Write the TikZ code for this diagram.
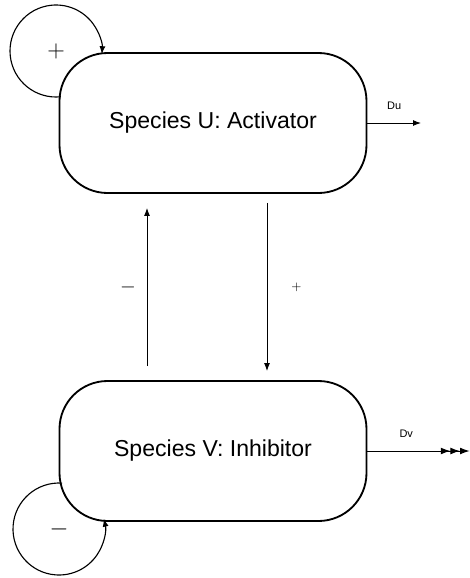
\documentclass[tikz,border=0pt]{standalone}
\usepackage{fontspec}
\setmainfont{Liberation Sans}
\usetikzlibrary{arrows.meta}

\begin{document}
\begin{tikzpicture}[line width=0.7pt,>={Latex[length=0.2cm,width=0.15cm]},
    species/.style={draw,line width=1.3pt,rectangle,rounded corners=1.2cm,minimum width=7.675cm,minimum height=3.5cm,font=\fontsize{16.4}{20}\selectfont},
    sign/.style={font=\fontsize{18.5}{20}\selectfont},
    rate/.style={font=\fontsize{7.8}{9}\selectfont}]
    \useasboundingbox (0,0) rectangle (11.75,-14.45);
    \node at (5.325,-3.075) [species] (act) {Species U: Activator};
    \node at (5.325,-11.275) [species] (inh) {Species V: Inhibitor};
    \node at (1.4,-1.275) [sign] (pself) {$+$};
    \node at (1.475,-13.225) [sign] (mself) {$-$};
    \coordinate (du) at (10.525,-3.075);
    \coordinate (dv) at (11.74,-11.275);
    \draw[->,line width=0.8pt] ([shift={(-84:1.15)}]pself.center) arc[start angle=-84,end angle=-364,radius=1.15];
    \draw[->,line width=0.8pt] ([shift={(86:1.15)}]mself.center) arc[start angle=86,end angle=373,radius=1.15];
    \draw[->,shorten <=0.35cm,shorten >=0.35cm] ([xshift=-1.65cm]inh.north) -- ([xshift=-1.65cm]act.south)
        node[midway,left=0.15cm,font=\fontsize{13.5}{15}\selectfont] {$-$};
    \draw[->,shorten <=0.225cm,shorten >=0.225cm] ([xshift=1.35cm]act.south) -- ([xshift=1.35cm]inh.north)
        node[midway,right=0.48cm,font=\fontsize{9.5}{11}\selectfont] {$+$};
    \draw[->] (act.east) -- (du) node[midway,above=0.2cm,rate] {Du};
    \draw[-{Latex[length=0.24cm,width=0.17cm]Latex[length=0.24cm,width=0.17cm]Latex[length=0.24cm,width=0.17cm]}] (inh.east) -- (dv)
        node[pos=0.38,above=0.2cm,rate] {Dv};
\end{tikzpicture}
\end{document}
